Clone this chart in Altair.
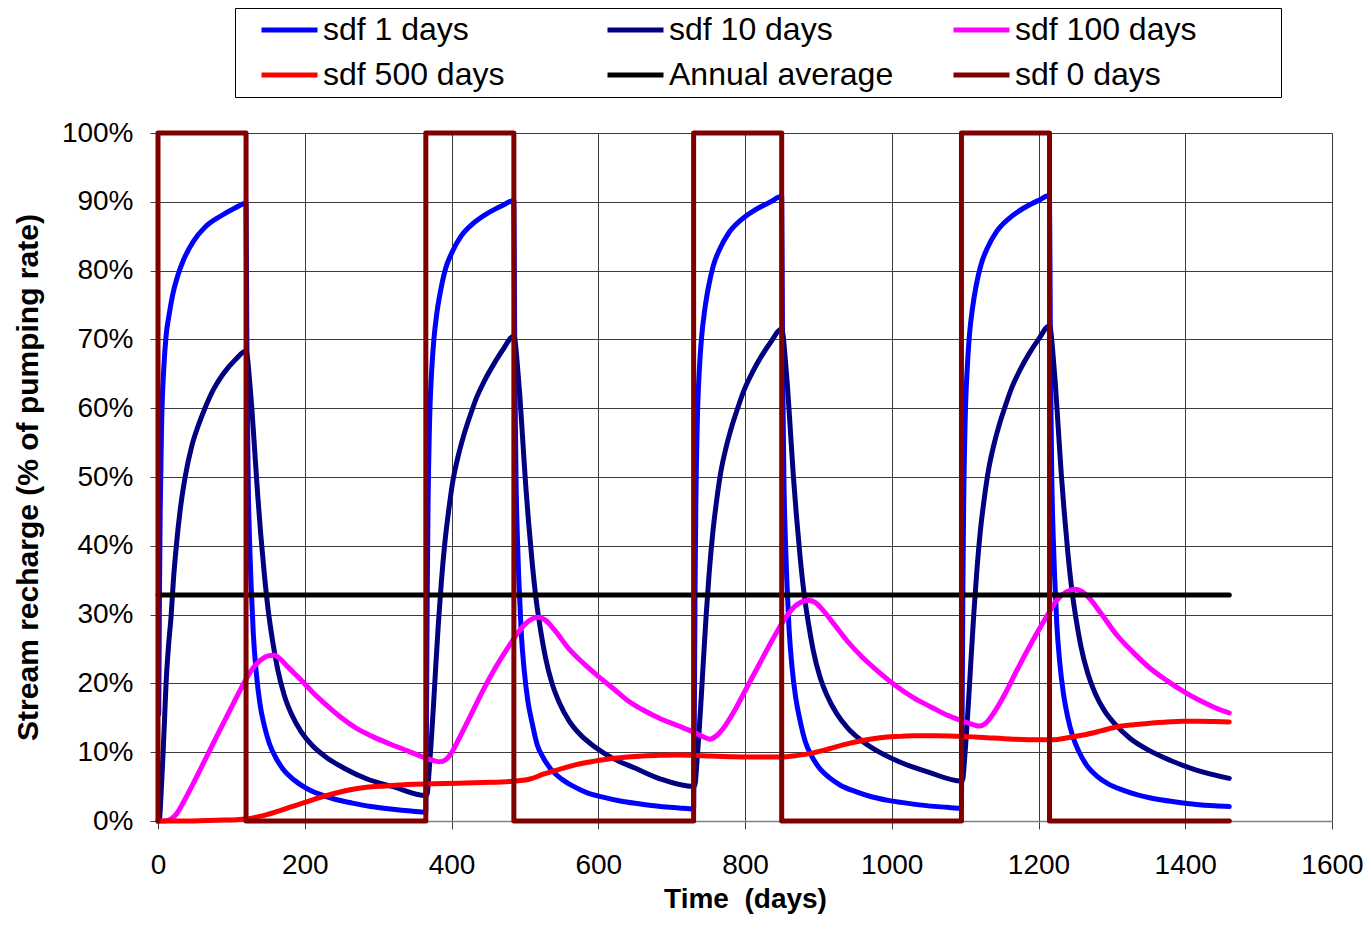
import altair as alt
import pandas as pd

# ---------------- data ----------------
series_names = ["sdf 1 days", "sdf 10 days", "sdf 100 days",
                "sdf 500 days", "Annual average", "sdf 0 days"]
series_colors = ["#0000FF", "#000080", "#FF00FF", "#FF0000", "#000000", "#800000"]

x_ticks = [0, 200, 400, 600, 800, 1000, 1200, 1400, 1600]
y_ticks = [0, 10, 20, 30, 40, 50, 60, 70, 80, 90, 100]

# sdf 1 days (blue)
blue_day = [1, 2, 3, 5, 8, 11, 15, 20, 27, 35, 48, 65, 85, 105, 120,
            121, 122, 123, 125, 127, 130, 134, 139, 145, 152, 160, 170, 185, 200, 220, 240, 265, 290, 320, 345, 365,
            366, 367, 368, 370, 373, 376, 380, 385, 392, 400, 413, 430, 450, 470, 485,
            486, 487, 488, 490, 492, 495, 499, 504, 510, 517, 525, 535, 550, 565, 585, 605, 630, 655, 685, 710, 730,
            731, 732, 733, 735, 738, 741, 745, 750, 757, 765, 778, 795, 815, 835, 850,
            851, 852, 853, 855, 857, 860, 864, 869, 875, 882, 890, 900, 915, 930, 950, 970, 995, 1020, 1050, 1075, 1095,
            1096, 1097, 1098, 1100, 1103, 1106, 1110, 1115, 1122, 1130, 1143, 1160, 1180, 1200, 1215,
            1216, 1217, 1218, 1220, 1222, 1225, 1229, 1234, 1240, 1247, 1255, 1265, 1280, 1295, 1315, 1335, 1360, 1385, 1415, 1440, 1460]
blue_val = [15.5, 33, 45, 58, 66, 70.5, 73.5, 76.5, 79.3, 81.6, 84.2, 86.4, 87.9, 89.1, 89.8,
            72, 58, 49, 40, 34, 27, 21.5, 17, 13.8, 11.2, 9.3, 7.6, 6, 4.9, 3.9, 3.2, 2.6, 2.1, 1.7, 1.45, 1.3,
            16, 34, 45.5, 57.5, 65.5, 70, 73.8, 77, 80.3, 82.5, 85, 86.9, 88.4, 89.5, 90.2,
            72.5, 58.5, 49.5, 40.5, 34.5, 27.5, 22, 17.5, 14.2, 11, 9.2, 7.6, 6.1, 5.1, 4.1, 3.5, 2.9, 2.5, 2.1, 1.9, 1.75,
            16.5, 34.5, 46, 58, 66, 70.5, 74.2, 77.5, 80.8, 83, 85.5, 87.4, 88.9, 90, 90.8,
            73, 59, 50, 41, 35, 28, 22.5, 18, 14.6, 11.6, 9.6, 7.9, 6.3, 5.2, 4.3, 3.6, 3.0, 2.6, 2.2, 2.0, 1.85,
            16.5, 34.5, 46, 58, 66, 70.8, 74.5, 77.8, 81, 83.2, 85.7, 87.6, 89.1, 90.2, 90.9,
            73.5, 59.5, 50.5, 41.5, 35.5, 28.5, 23, 18.5, 15, 12.2, 10.1, 8.2, 6.5, 5.4, 4.5, 3.8, 3.2, 2.8, 2.4, 2.2, 2.1]

# sdf 10 days (navy)
navy_day = [0, 2, 4, 7, 9, 11, 14, 18, 21, 25, 30, 37, 46, 55, 64, 76, 89, 105, 120,
            122, 125, 128, 132, 136, 140, 145, 150, 156, 163, 172, 182, 195, 210, 230, 255, 285, 320, 365,
            367, 369, 372, 375, 378, 382, 386, 391, 396, 402, 409, 416, 425, 434, 445, 457, 470, 485,
            487, 490, 493, 497, 501, 505, 510, 515, 521, 528, 537, 547, 560, 575, 595, 620, 650, 685, 730,
            732, 734, 737, 740, 743, 747, 751, 756, 761, 767, 774, 781, 790, 799, 810, 822, 835, 850,
            852, 855, 858, 862, 866, 870, 875, 880, 886, 893, 902, 912, 925, 940, 960, 985, 1015, 1050, 1095,
            1097, 1099, 1102, 1105, 1108, 1112, 1116, 1121, 1126, 1132, 1139, 1146, 1155, 1164, 1175, 1187, 1200, 1215,
            1217, 1220, 1223, 1227, 1231, 1235, 1240, 1245, 1251, 1258, 1267, 1277, 1290, 1305, 1325, 1350, 1380, 1415, 1460]
navy_val = [0, 0.3, 3.5, 10, 15, 20, 25, 30, 35, 40, 45, 50, 54.5, 57.5, 60, 62.8, 65, 67, 68.3,
            67.3, 63.8, 59.8, 53.5, 47.2, 41.7, 35.8, 30.8, 26.3, 22.1, 18.3, 15.5, 13.0, 11.0, 9.2, 7.6, 6.1, 5.0, 3.7,
            4, 6.5, 11, 16, 21.5, 28.5, 34.5, 40.5, 45, 49.5, 53, 55.8, 58.8, 61.5, 64, 66.3, 68.5, 70.5,
            69.5, 66, 62, 55.5, 49, 43.5, 37.5, 32.5, 28, 23.8, 20, 17.2, 14.6, 12.6, 10.8, 9.1, 7.7, 6.1, 5.0,
            5.4, 7.8, 12.3, 17.3, 22.8, 29.8, 35.8, 41.8, 46.3, 50.7, 54.2, 57, 60, 62.7, 65.2, 67.5, 69.6, 71.5,
            70.5, 67, 63, 56.5, 50, 44.5, 38.5, 33.5, 29, 24.8, 21, 18.2, 15.6, 13.5, 11.6, 9.9, 8.4, 7.1, 5.8,
            6.2, 8.6, 13, 18, 23.5, 30.4, 36.4, 42.4, 46.8, 51.1, 54.6, 57.4, 60.4, 63.1, 65.6, 67.9, 70, 72,
            71, 67.5, 63.5, 57, 50.5, 45, 39, 34, 29.5, 25.3, 21.5, 18.6, 16, 14, 12, 10.3, 8.8, 7.4, 6.2]

# sdf 100 days (magenta)
mag_day = [0, 10, 18, 25, 32, 40, 60, 80, 100, 120, 130, 140, 150, 158, 166, 175, 193, 210, 230, 250, 270, 292, 316,
           340, 361, 375, 384, 392, 400, 408, 418, 430, 443, 460, 480, 495, 507, 518, 528, 540, 561, 580, 598, 620,
           639, 660, 684, 710, 730, 742, 752, 760, 770, 785, 800, 820, 843, 855, 866, 876, 886, 895, 905, 920, 939,
           960, 984, 1005, 1030, 1055, 1075, 1095, 1108, 1120, 1128, 1139, 1155, 1170, 1190, 1211, 1225, 1238, 1250,
           1260, 1270, 1285, 1307, 1330, 1352, 1375, 1398, 1420, 1440, 1460]
mag_val = [0, 0, 0.3, 1, 2.2, 3.8, 8, 12.3, 16.5, 20.6, 22.3, 23.4, 24, 24.1, 23.6, 22.6, 20.7, 18.8, 16.8, 15, 13.5,
           12.3, 11.2, 10.2, 9.3, 8.8, 8.6, 8.9, 9.9, 11.5, 13.6, 16.2, 19, 22.3, 25.7, 28, 29.2, 29.6, 29.2, 27.8,
           24.9, 22.9, 21.2, 19.3, 17.6, 16.2, 14.9, 13.8, 12.9, 12.3, 11.9, 12.3, 13.4, 15.9, 18.9, 22.9, 27.4, 29.5,
           31, 31.8, 32.1, 31.8, 30.8, 28.8, 26.2, 23.8, 21.5, 19.7, 17.9, 16.5, 15.4, 14.6, 14.1, 13.8, 14.2, 15.7,
           18.6, 21.8, 25.8, 29.7, 32.1, 33.3, 33.7, 33.3, 32.3, 30.2, 27, 24.4, 22.2, 20.4, 18.8, 17.5, 16.5, 15.7]

# sdf 500 days (red)
red_day = [0, 40, 80, 120, 140, 160, 180, 200, 220, 240, 260, 284, 310, 340, 375, 410, 443, 480, 507, 525, 550, 570,
           595, 616, 640, 661, 685, 707, 730, 752, 780, 802, 848, 870, 893, 915, 939, 960, 984, 1010, 1030, 1060,
           1098, 1130, 1166, 1200, 1220, 1240, 1261, 1285, 1307, 1330, 1352, 1375, 1398, 1420, 1440, 1460]
red_val = [0, 0, 0.1, 0.3, 0.7, 1.3, 2, 2.7, 3.4, 4, 4.5, 4.9, 5.1, 5.3, 5.4, 5.5, 5.6, 5.75, 6.1, 6.8, 7.6, 8.2,
           8.7, 9.05, 9.3, 9.45, 9.55, 9.6, 9.55, 9.45, 9.35, 9.3, 9.3, 9.5, 9.9, 10.5, 11.2, 11.7, 12.1, 12.3, 12.4,
           12.4, 12.3, 12.1, 11.9, 11.8, 11.8, 12.1, 12.5, 13.1, 13.7, 14.0, 14.2, 14.4, 14.5, 14.5, 14.45, 14.4]

# Annual average (black)
avg_day = [0, 1460]
avg_val = [32.85, 32.85]

# sdf 0 days (dark red square wave)
sq_day = [0, 0, 120, 120, 365, 365, 485, 485, 730, 730, 850, 850, 1095, 1095, 1215, 1215, 1460]
sq_val = [0, 100, 100, 0, 0, 100, 100, 0, 0, 100, 100, 0, 0, 100, 100, 0, 0]

series_data = [
    ("sdf 1 days", blue_day, blue_val),
    ("sdf 10 days", navy_day, navy_val),
    ("sdf 100 days", mag_day, mag_val),
    ("sdf 500 days", red_day, red_val),
    ("Annual average", avg_day, avg_val),
    ("sdf 0 days", sq_day, sq_val),
]

rows = []
for name, days, vals in series_data:
    for i, (d, v) in enumerate(zip(days, vals)):
        rows.append({"series": name, "day": d, "value": v, "i": i})
df = pd.DataFrame(rows)

FONT = "Liberation Sans"

# invisible trailing blanks (closed by a zero-width space so they are not trimmed)
# widen the last legend column so the framed box spans like the original
legend_label_expr = (
    "(datum.label == 'sdf 100 days' || datum.label == 'sdf 0 days') ? "
    "datum.label + '\u00a0\u00a0\u00a0\u00a0\u00a0\u00a0\u00a0\u00a0\u00a0\u200b' : datum.label"
)

color = alt.Color(
    "series:N",
    scale=alt.Scale(domain=series_names, range=series_colors),
    legend=alt.Legend(
        title=None,
        orient="none", legendX=77, legendY=-125,
        direction="horizontal",
        columns=3, gridAlign="all",
        symbolType="stroke", symbolSize=3136, symbolStrokeWidth=5,
        labelFont=FONT, labelFontSize=32, labelColor="black", labelLimit=600,
        labelExpr=legend_label_expr,
        padding=4, clipHeight=36, rowPadding=9, columnPadding=0,
        symbolOffset=20, labelOffset=3,
        strokeColor="black", fillColor="white",
    ),
)

x_enc = alt.X("day:Q", scale=alt.Scale(domain=[0, 1600], nice=False),
              axis=alt.Axis(values=x_ticks, format="d", labelFlush=False,
                            title="Time \u00a0(days)"))
y_enc = alt.Y("value:Q", scale=alt.Scale(domain=[0, 100], nice=False),
              axis=alt.Axis(values=y_ticks, labelExpr="datum.value + '%'",
                            title="Stream recharge (% of pumping rate)"))


def layer(name, interp):
    return alt.Chart(df).transform_filter(alt.datum.series == name).mark_line(
        strokeWidth=5, interpolate=interp, strokeJoin="round", strokeCap="round"
    ).encode(x=x_enc, y=y_enc, color=color, order=alt.Order("i:Q"))


chart = alt.layer(
    layer("sdf 1 days", "monotone"),
    layer("sdf 10 days", "monotone"),
    layer("sdf 100 days", "monotone"),
    layer("sdf 500 days", "monotone"),
    layer("Annual average", "linear"),
    layer("sdf 0 days", "linear"),
).properties(
    width=1174, height=688,
    padding={"left": 150, "top": 125, "right": 32, "bottom": 93},
    autosize=alt.AutoSizeParams(type="none"),
    background="white",
).configure_axis(
    labelFont=FONT, labelFontSize=28, labelColor="black",
    titleFont=FONT, titleFontWeight="bold", titleColor="black",
    gridColor="#3c3c3c", gridWidth=1, gridOpacity=1,
    domainColor="#808080", domainWidth=1.5,
    tickColor="#404040", tickSize=8, tickWidth=1,
).configure_axisX(
    labelPadding=22, titleFontSize=28, titlePadding=6,
).configure_axisY(
    labelPadding=17, titleFontSize=30, titlePadding=18,
).configure_view(strokeOpacity=0)

chart.save("out.html", embed_options={"renderer": "svg", "actions": False})
